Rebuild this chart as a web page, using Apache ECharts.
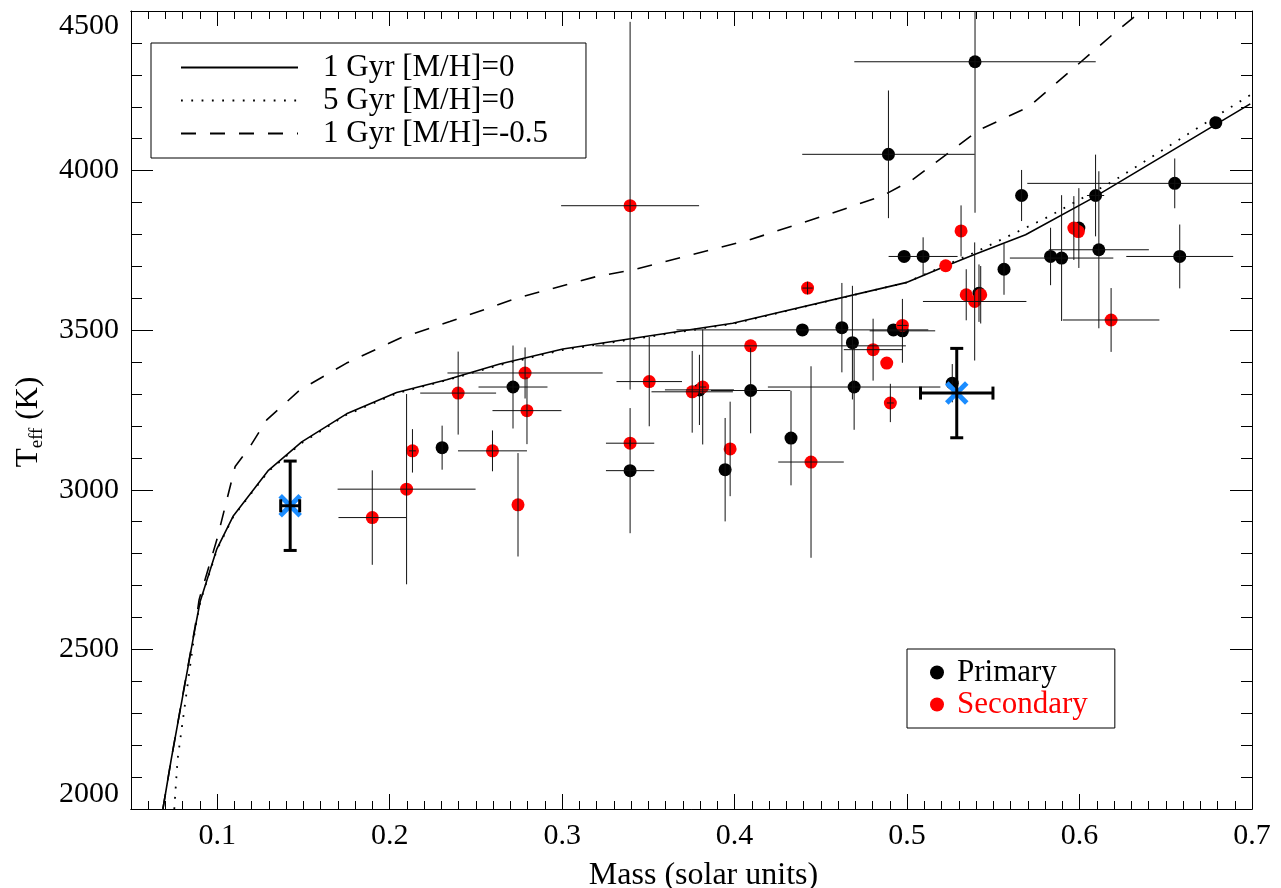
<!DOCTYPE html>
<html>
<head>
<meta charset="utf-8">
<script src="https://cdn.jsdelivr.net/npm/echarts@6/dist/echarts.min.js"></script>
<style>
html,body{margin:0;padding:0;background:#fff;}
#chart{width:1281px;height:888px;}
</style>
</head>
<body>
<div id="chart"></div>
<script>
// ---------- data ----------
// Model isochrones (mass, Teff)
const model1GyrMass = [0.0685,0.0733,0.0872,0.0901,0.0998,0.1094,0.1297,0.149,0.175,0.204,0.233,0.2638,0.3004,0.3989,0.4993,0.5243,0.5398,0.5687,0.6073,0.699];
const model1GyrTeff = [2000,2155,2568,2650,2815,2919,3061,3150,3238,3305,3345,3394,3441,3522,3649,3705,3739,3799,3913,4209];
const model5GyrMass = [0.0751,0.077,0.0872,0.0901,0.0998,0.1094,0.1297,0.149,0.175,0.204,0.233,0.2638,0.3004,0.3989,0.4993,0.5243,0.5398,0.5803,0.6189,0.699];
const model5GyrTeff = [2000,2155,2565,2648,2812,2917,3058,3147,3235,3302,3343,3391,3438,3520,3649,3708,3745,3851,3965,4237];
const modelLowZMass = [0.0685,0.0733,0.0872,0.0895,0.0998,0.1104,0.1191,0.1287,0.148,0.175,0.2059,0.2349,0.2735,0.3198,0.341,0.4085,0.4568,0.4857,0.5031,0.5417,0.5706,0.6189,0.636];
const modelLowZTeff = [2000,2155,2572,2656,2844,3073,3136,3219,3313,3397,3475,3527,3600,3668,3689,3783,3867,3921,3971,4127,4200,4425,4500];

// Primary components
const primaryMass    = [0.2304,0.2715,0.3394,0.3796,0.3945,0.4093,0.4327,0.4393,0.4622,0.4683,0.4693,0.4892,0.4921,0.4973,0.4983,0.5093,0.5262,0.5394,0.5417,0.5562,0.5664,0.5832,0.5896,0.5996,0.6093,0.6112,0.6552,0.6581,0.679];
const primaryTeff    = [3132,3322,3060,3313,3063,3311,3162,3501,3508,3461,3322,4051,3501,3498,3731,3731,3334,4341,3616,3691,3922,3731,3726,3820,3922,3752,3960,3731,4150];
const primaryMassErr = [0,0.02,0.014,0.02,0,0.023,0,0.073,0,0,0.05,0.05,0,0.019,0,0.02,0,0.07,0,0,0,0,0.03,0,0.005,0.029,0.0855,0.031,0];
const primaryTeffErr = [69,130,196,110,162,134,148,0,140,178,134,200,0,100,0,60,60,473,90,80,80,90,197,125,128,246,78,100,0];

// Secondary components
const secondaryMass    = [0.1899,0.2098,0.2132,0.2397,0.2596,0.2744,0.2785,0.2796,0.3394,0.3394,0.3505,0.3754,0.3815,0.3974,0.4093,0.4423,0.4443,0.4803,0.4882,0.4903,0.4973,0.5224,0.5313,0.5343,0.5392,0.5427,0.5967,0.5993,0.6183];
const secondaryTeff    = [2913,3002,3122,3303,3122,2953,3366,3248,3890,3146,3339,3307,3322,3128,3451,3632,3087,3439,3397,3272,3515,3702,3811,3611,3590,3611,3820,3809,3532];
const secondaryMassErr = [0.0196,0.04,0.002,0.022,0.02,0,0.045,0.02,0.04,0.014,0.019,0.0236,0.002,0,0.09,0.003,0.019,0.017,0,0.002,0.003,0,0,0,0.03,0,0,0,0.028];
const secondaryTeffErr = [148,298,68,130,64,162,80,105,576,10,140,128,180,148,0,20,300,97,0,60,15,0,80,80,185,90,100,0,100];

// Highlighted systems (blue crosses)
const highlightMass    = [0.1423,0.5288];
const highlightTeff    = [2950,3303];
const highlightMassErr = [0.0055,0.021];
const highlightTeffErr = [140,140];

// Tick labels
const xTickValues = [0.1,0.2,0.3,0.4,0.5,0.6,0.7];
const yTickValues = [2000,2500,3000,3500,4000,4500];

// ---------- build ----------
const FONT = 'Liberation Serif';
const zip2 = (a,b) => a.map((v,i)=>[v,b[i]]);
const zip4 = (a,b,c,d) => a.map((v,i)=>[v,b[i],c[i],d[i]]);

const xMinor = [];
for (let k = 6; k < 70; k++) { if (k % 10 !== 0) xMinor.push(+(k/100).toFixed(2)); }

const XMIN = 0.05, XMAX = 0.7, YMIN = 2000, YMAX = 4500;

function baseX(extra) {
  return Object.assign({
    type:'value', min:XMIN, max:XMAX, gridIndex:0,
    axisLine:{show:true, onZero:false, lineStyle:{color:'#000', width:1}},
    splitLine:{show:false},
    axisLabel:{show:false},
    axisTick:{show:false}
  }, extra);
}
function baseY(extra) {
  return Object.assign({
    type:'value', min:YMIN, max:YMAX, interval:500, gridIndex:0,
    axisLine:{show:true, onZero:false, lineStyle:{color:'#000', width:1}},
    splitLine:{show:false},
    axisLabel:{show:false},
    axisTick:{show:false}
  }, extra);
}

const errorBarSeries = (name, data) => ({
  type:'custom', name:name, xAxisIndex:0, yAxisIndex:0, clip:true, z:5,
  data:data, encode:{x:0, y:1}, silent:true,
  renderItem:function(params, api){
    const x = api.value(0), y = api.value(1), dx = api.value(2), dy = api.value(3);
    const ch = [];
    if (dx > 0) {
      const a = api.coord([x-dx,y]), b = api.coord([x+dx,y]);
      ch.push({type:'line', shape:{x1:a[0],y1:a[1],x2:b[0],y2:b[1]}, style:{stroke:'#111', lineWidth:1}});
    }
    if (dy > 0) {
      const a = api.coord([x,y-dy]), b = api.coord([x,y+dy]);
      ch.push({type:'line', shape:{x1:a[0],y1:a[1],x2:b[0],y2:b[1]}, style:{stroke:'#111', lineWidth:1}});
    }
    return {type:'group', children:ch};
  }
});

const option = {
  backgroundColor:'#fff',
  animation:false,
  textStyle:{fontFamily:FONT},
  grid:{left:131, right:29, top:11, bottom:79, containLabel:false, outerBoundsMode:'none'},
  legend:[
    {
      data:['1 Gyr [M/H]=0','5 Gyr [M/H]=0','1 Gyr [M/H]=-0.5'],
      orient:'vertical', left:151, top:43,
      itemWidth:117, itemHeight:14, itemGap:2,
      padding:[9,38,9,29],
      borderColor:'#000', borderWidth:1,
      itemStyle:{opacity:0, color:'rgba(0,0,0,0)', borderWidth:0},
      textStyle:{fontFamily:FONT, fontSize:31, color:'#000', lineHeight:30, padding:[0,0,0,20]},
      selectedMode:false
    },
    {
      data:[{name:'Primary'},{name:'Secondary', textStyle:{color:'#ff0000'}}],
      orient:'vertical', left:907, top:649,
      icon:'circle', itemWidth:14, itemHeight:14, itemGap:1,
      padding:[8,27,8,23],
      borderColor:'#000', borderWidth:1,
      textStyle:{fontFamily:FONT, fontSize:31, color:'#000', lineHeight:30, padding:[0,0,0,8]},
      selectedMode:false
    }
  ],
  xAxis:[
    baseX({position:'bottom',
      name:'Mass (solar units)', nameLocation:'middle', nameGap:51,
      nameTextStyle:{fontFamily:FONT, fontSize:32, color:'#000', padding:[0,0,0,24]},
      axisLabel:{show:true, customValues:xTickValues, margin:12, fontFamily:FONT, fontSize:30, color:'#000',
        formatter:v=>String(+v.toFixed(1))},
      axisTick:{show:true, inside:true, length:15, customValues:xTickValues, lineStyle:{color:'#000', width:1}}
    }),
    baseX({position:'bottom',
      axisTick:{show:true, inside:true, length:8, customValues:xMinor, lineStyle:{color:'#000', width:1}}
    }),
    baseX({position:'top',
      axisTick:{show:true, inside:true, length:15, customValues:xTickValues, lineStyle:{color:'#000', width:1}}
    }),
    baseX({position:'top',
      axisTick:{show:true, inside:true, length:8, customValues:xMinor, lineStyle:{color:'#000', width:1}}
    })
  ],
  yAxis:[
    baseY({position:'left',
      name:'{t|T}{s|eff}{t| (K)}', nameLocation:'middle', nameGap:84, nameRotate:90,
      nameTextStyle:{fontFamily:FONT, color:'#000', padding:[0,0,0,-24],
        rich:{t:{fontFamily:FONT, fontSize:31, color:'#000', lineHeight:36, verticalAlign:'middle'},
              s:{fontFamily:FONT, fontSize:19, color:'#000', lineHeight:36, verticalAlign:'bottom'}}},
      axisLabel:{show:true, margin:12, fontFamily:FONT, fontSize:30, color:'#000',
        customValues:yTickValues, formatter:v=>String(v),
        verticalAlignMaxLabel:'top', verticalAlignMinLabel:'bottom'},
      axisTick:{show:true, inside:true, length:22, lineStyle:{color:'#000', width:1}},
      minorTick:{show:true, splitNumber:5, length:11, lineStyle:{color:'#000', width:1}}
    }),
    baseY({position:'right',
      axisTick:{show:true, inside:true, length:22, lineStyle:{color:'#000', width:1}},
      minorTick:{show:true, splitNumber:5, length:11, lineStyle:{color:'#000', width:1}}
    })
  ],
  series:[
    {name:'1 Gyr [M/H]=0', type:'line', data:zip2(model1GyrMass, model1GyrTeff), symbol:'none', z:2,
      lineStyle:{color:'#000', width:1.6, type:'solid'}, itemStyle:{color:'#000'}, clip:true, silent:true},
    {name:'5 Gyr [M/H]=0', type:'line', data:zip2(model5GyrMass, model5GyrTeff), symbol:'none', z:2,
      lineStyle:{color:'#000', width:1.8, type:[1.8,8.5]}, itemStyle:{color:'#000'}, clip:true, silent:true},
    {name:'1 Gyr [M/H]=-0.5', type:'line', data:zip2(modelLowZMass, modelLowZTeff), symbol:'none', z:2,
      lineStyle:{color:'#000', width:1.6, type:[15,14]}, itemStyle:{color:'#000'}, clip:true, silent:true},
    {name:'Primary', type:'scatter', data:zip2(primaryMass, primaryTeff), symbol:'circle', symbolSize:13, z:3,
      itemStyle:{color:'#000', opacity:1}, silent:true},
    {name:'Secondary', type:'scatter', data:zip2(secondaryMass, secondaryTeff), symbol:'circle', symbolSize:13, z:4,
      itemStyle:{color:'#ff0000', opacity:1}, silent:true},
    errorBarSeries('primaryErr', zip4(primaryMass, primaryTeff, primaryMassErr, primaryTeffErr)),
    errorBarSeries('secondaryErr', zip4(secondaryMass, secondaryTeff, secondaryMassErr, secondaryTeffErr)),
    {
      type:'custom', name:'highlight', xAxisIndex:0, yAxisIndex:0, clip:true, z:6, silent:true,
      data:zip4(highlightMass, highlightTeff, highlightMassErr, highlightTeffErr), encode:{x:0,y:1},
      renderItem:function(params, api){
        const x = api.value(0), y = api.value(1), dx = api.value(2), dy = api.value(3);
        const c = api.coord([x,y]);
        const h = 10, cap = 6.5;
        const l = api.coord([x-dx,y]), r = api.coord([x+dx,y]);
        const t = api.coord([x,y+dy]), b = api.coord([x,y-dy]);
        const blue = {stroke:'#1a8cff', lineWidth:5};
        const blk = {stroke:'#000', lineWidth:3};
        return {type:'group', children:[
          {type:'line', shape:{x1:c[0]-h,y1:c[1]-h,x2:c[0]+h,y2:c[1]+h}, style:blue},
          {type:'line', shape:{x1:c[0]-h,y1:c[1]+h,x2:c[0]+h,y2:c[1]-h}, style:blue},
          {type:'line', shape:{x1:l[0],y1:l[1],x2:r[0],y2:r[1]}, style:blk},
          {type:'line', shape:{x1:t[0],y1:t[1],x2:b[0],y2:b[1]}, style:blk},
          {type:'line', shape:{x1:l[0],y1:l[1]-cap,x2:l[0],y2:l[1]+cap}, style:blk},
          {type:'line', shape:{x1:r[0],y1:r[1]-cap,x2:r[0],y2:r[1]+cap}, style:blk},
          {type:'line', shape:{x1:t[0]-cap,y1:t[1],x2:t[0]+cap,y2:t[1]}, style:blk},
          {type:'line', shape:{x1:b[0]-cap,y1:b[1],x2:b[0]+cap,y2:b[1]}, style:blk}
        ]};
      }
    }
  ]
};

const chart = echarts.init(document.getElementById('chart'), null, {renderer:'canvas'});
chart.setOption(option);
</script>
</body>
</html>
